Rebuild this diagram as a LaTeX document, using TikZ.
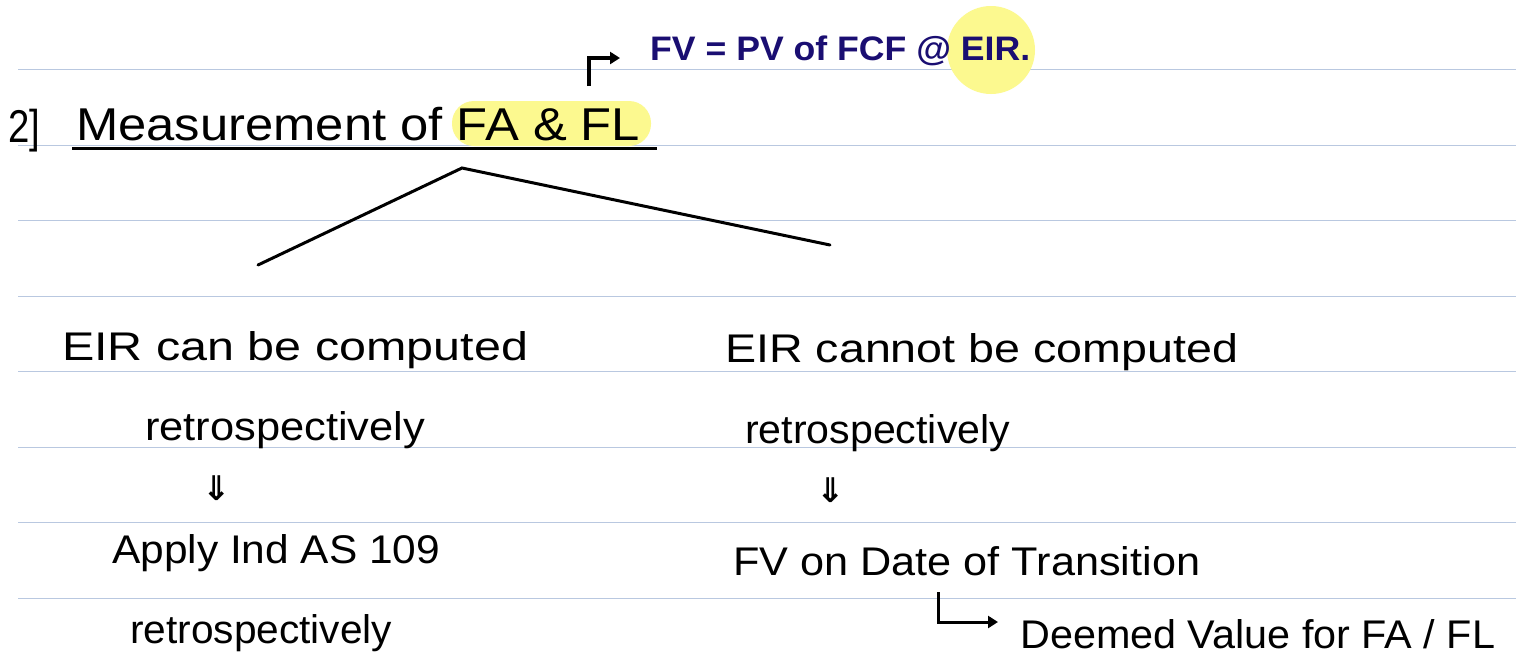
\documentclass[tikz,border=0pt]{standalone}
\usepackage{fontspec}
\setmainfont{Liberation Sans}
\newfontfamily\symf{DejaVu Sans}
\usetikzlibrary{arrows.meta}
\definecolor{rulec}{HTML}{B9C8E0}
\definecolor{hl}{HTML}{FCF98F}
\definecolor{ink}{HTML}{1A0E72}
\newcommand\fitw[2]{\resizebox{#1}{\height}{#2}}
\begin{document}
\begin{tikzpicture}[x=1pt,y=-1pt,
  txt/.style={inner sep=0pt, anchor=base west, font=\fontsize{40}{48}\selectfont},
  ttl/.style={inner sep=0pt, anchor=base west, font=\fontsize{46}{54}\selectfont},
  blue/.style={inner sep=0pt, anchor=base west, text=ink, font=\fontsize{34}{40}\selectfont\bfseries},
  branch/.style={line width=3pt, line cap=round},
  pointer/.style={line width=3.5pt, -{Triangle[length=10pt,width=12pt]}},
  darr/.style={inner sep=0pt, font=\symf\bfseries\fontsize{34}{40}\selectfont}]
\useasboundingbox (0,0) rectangle (1516,662);
\fill[white] (0,0) rectangle (1516,662);
% ruled lines
\foreach \y in {69,145,220,296,371,447,522,598}
  \draw[rulec, line width=1pt] (18,\y) -- (1516,\y);
% highlights
\fill[hl, rounded corners=22pt] (452,101) rectangle (651,146);
\fill[hl] (991,50) circle (44pt);
% top definition
\node[blue] (fv) at (650,60) {\fitw{380pt}{FV = PV of FCF @ EIR.}};
% title
\node[ttl] (num) at (8,142) {\fitw{32pt}{2]}};
\node[ttl] (title) at (76,140) {\fitw{564pt}{Measurement of FA \& FL}};
\draw[line width=3pt] (72,148) coordinate (u1) -- (657,148) coordinate (u2);
\coordinate (pstart) at (589,86);
\coordinate (pend) at (620,58);
\draw[pointer] (pstart) |- (pend);
% branches
\coordinate (apex) at (462,168);
\coordinate (lend) at (258,265);
\coordinate (rend) at (830,245);
\draw[branch] (lend) -- (apex) -- (rend);
% left column
\node[txt] (l1) at (62,360) {\fitw{466pt}{EIR can be computed}};
\node[txt] (l2) at (145,440) {\fitw{280pt}{retrospectively}};
\node[darr] (ld) at (217,488) {⇓};
\node[txt] (l3) at (112,563) {\fitw{328pt}{Apply Ind AS 109}};
\node[txt] (l4) at (130,643) {\fitw{262pt}{retrospectively}};
% right column
\node[txt] (r1) at (725,362) {\fitw{513pt}{EIR cannot be computed}};
\node[txt] (r2) at (745,443) {\fitw{265pt}{retrospectively}};
\node[darr] (rd) at (831,490) {⇓};
\node[txt] (r3) at (733,575) {\fitw{467pt}{FV on Date of Transition}};
\coordinate (hstart) at (938,592);
\coordinate (hend) at (998,622);
\draw[pointer, line width=3pt] (hstart) |- (hend);
\node[txt] (r4) at (1020,648) {\fitw{475pt}{Deemed Value for FA / FL}};
\end{tikzpicture}
\end{document}
